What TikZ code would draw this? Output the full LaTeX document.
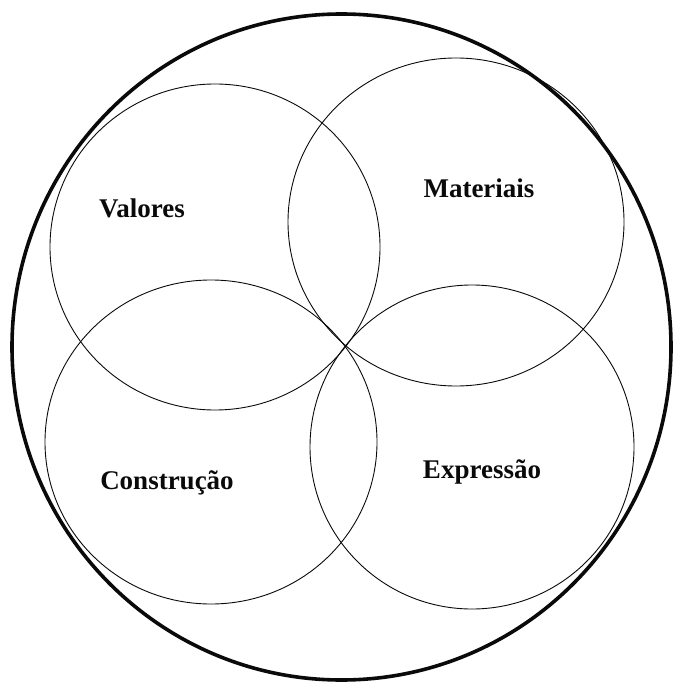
\documentclass[tikz,border=0pt]{standalone}
\usepackage{fontspec}
\setmainfont{Liberation Serif}
\usepackage{xcolor}
\usepackage{tikz}
\usetikzlibrary{positioning}
\definecolor{mydark}{RGB}{10,10,10}
\tikzset{
  outerring/.style={draw=mydark, line width=3.6pt},
  ring/.style={draw=mydark, line width=0.9pt},
  lbl/.style={anchor=base, inner sep=0pt, text=mydark,
    font=\fontsize{27}{30}\selectfont\bfseries}
}

\begin{document}
\begin{tikzpicture}[x=1pt, y=-1pt]
  \useasboundingbox (0,0) rectangle (673,684);

  % ── Outer ring ─────────────────────────────────────────────────────────────
  \draw[outerring] (341.5,347) ellipse [x radius=329.5, y radius=333];

  % ── Four circles ───────────────────────────────────────────────────────────
  \draw[ring] (215,247) ellipse [x radius=165, y radius=163];
  \draw[ring] (456,222) ellipse [x radius=168, y radius=164];
  \draw[ring] (211,442) ellipse [x radius=166, y radius=162];
  \draw[ring] (472,447) ellipse [x radius=162, y radius=162];

  % ── Labels ─────────────────────────────────────────────────────────────────
  \node[lbl] (valores)    at (142,218) {Valores};
  \node[lbl] (materiais)  at (479,198) {Materiais};
  \node[lbl] (construcao) at (167,489) {Construção};
  \node[lbl] (expressao)  at (482,478) {Expressão};
\end{tikzpicture}
\end{document}
